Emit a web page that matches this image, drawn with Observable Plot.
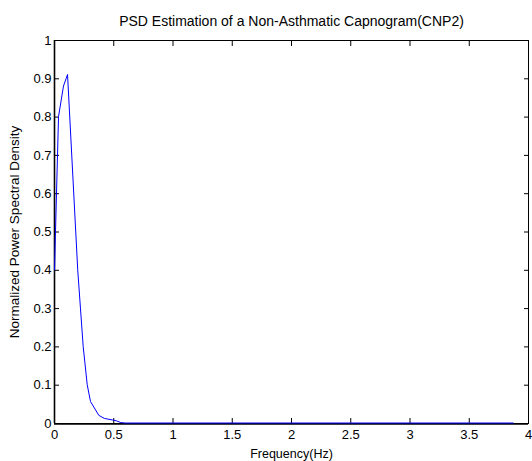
<!DOCTYPE html>
<html>
<head>
<meta charset="utf-8">
<script src="https://cdn.jsdelivr.net/npm/d3@7"></script>
<script src="https://cdn.jsdelivr.net/npm/@observablehq/plot@0.6"></script>
<style>
  html, body { margin: 0; padding: 0; background: #fff; }
  svg { display: block; }
</style>
</head>
<body>
<div id="chart"></div>
<script>
const title = "PSD Estimation of a Non-Asthmatic Capnogram(CNP2)";
const xLabel = "Frequency(Hz)";
const yLabel = "Normalized Power Spectral Density";

const freq = [0, 0.034, 0.076, 0.11, 0.196, 0.219, 0.242, 0.276, 0.304, 0.374, 0.42, 0.487, 0.52, 0.56, 0.6, 1.0, 2.0, 3.0, 3.87];
const psd  = [0.40, 0.80, 0.88, 0.91, 0.40, 0.30, 0.20, 0.10, 0.056, 0.02, 0.012, 0.008, 0.006, 0.001, 0, 0, 0, 0, 0];

const xTicks = [0, 0.5, 1, 1.5, 2, 2.5, 3, 3.5, 4];
const yTicks = [0, 0.1, 0.2, 0.3, 0.4, 0.5, 0.6, 0.7, 0.8, 0.9, 1];

const data = freq.map((f, i) => ({f, p: psd[i]}));

const chart = Plot.plot({
  width: 532,
  height: 461,
  marginLeft: 54,
  marginRight: 4,
  marginTop: 40,
  marginBottom: 38,
  style: {fontFamily: "Liberation Sans, Arial, sans-serif", fontSize: "12px", background: "#fff", color: "#000"},
  x: {domain: [0, 4]},
  y: {domain: [0, 1]},
  marks: [
    Plot.axisX({ticks: xTicks, tickSize: -5, tickPadding: 11, tickFormat: d => String(d), label: null, fontSize: 13}),
    Plot.axisX({anchor: "top", ticks: xTicks, tickSize: -5, tickFormat: () => "", label: null}),
    Plot.axisY({ticks: yTicks, tickSize: -5, tickPadding: 8, tickFormat: d => String(d), label: null, fontSize: 13}),
    Plot.axisY({anchor: "right", ticks: yTicks, tickSize: -5, tickFormat: () => "", label: null}),
    Plot.frame({stroke: "#000", strokeWidth: 1}),
    Plot.ruleX([0], {stroke: "#000", strokeWidth: 1.6}),
    Plot.ruleY([0], {stroke: "#000", strokeWidth: 1.6, dy: 0.5}),
    Plot.line(data, {x: "f", y: "p", stroke: "#0000ff", strokeWidth: 1, dy: -0.5}),
    Plot.text([title], {frameAnchor: "top", dy: -19, lineAnchor: "middle", fontSize: 14, text: d => d}),
    Plot.text([xLabel], {frameAnchor: "bottom", dy: 30, lineAnchor: "middle", fontSize: 12.5, text: d => d}),
    Plot.text([yLabel], {frameAnchor: "left", dx: -40, rotate: -90, textAnchor: "middle", lineAnchor: "middle", fontSize: 13.5, text: d => d})
  ]
});
document.getElementById("chart").appendChild(chart);
</script>
</body>
</html>
